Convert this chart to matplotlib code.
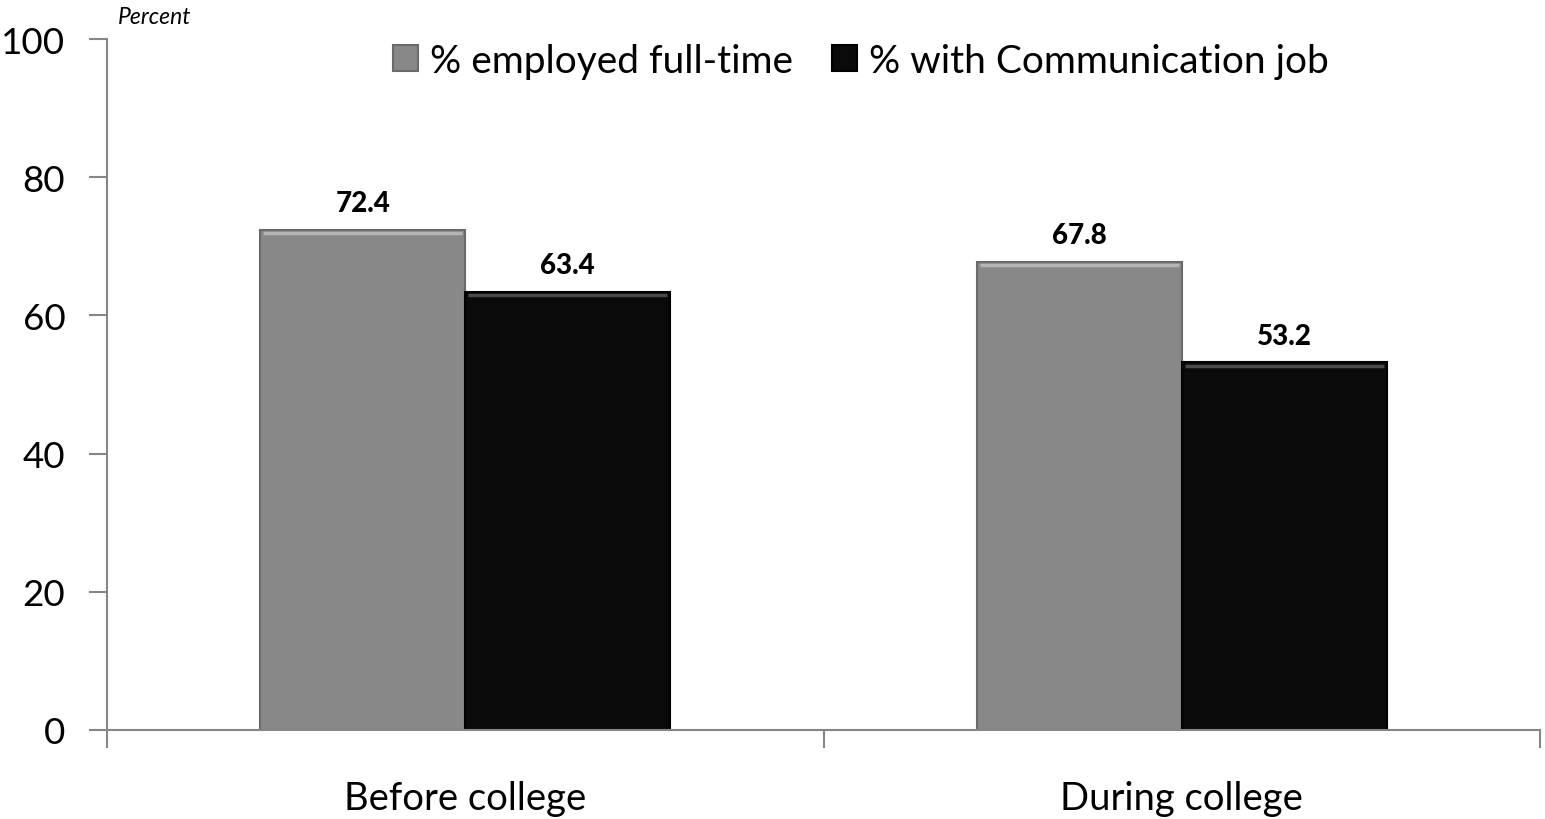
import matplotlib
matplotlib.use("Agg")
import matplotlib.pyplot as plt
import numpy as np

categories = ["Before college", "During college"]
series_names = ["% employed full-time", "% with Communication job"]
employed_full_time = [72.4, 67.8]
communication_job = [63.4, 53.2]
y_ticks = [0, 20, 40, 60, 80, 100]

plt.rcParams['font.family'] = ['Lato', 'DejaVu Sans']

fig = plt.figure(figsize=(15.45, 8.2), dpi=100)
ax = fig.add_axes([107/1545, 1-731/820, (1540-107)/1545, (731-40)/820])

x = np.arange(len(categories))
w = 0.286
colors = ["#888888", "#0a0a0a"]
edges = ["#6a6a6a", "#000000"]
for i, (vals, c, ec, name) in enumerate(zip([employed_full_time, communication_job], colors, edges, series_names)):
    off = (i - 0.5) * w
    bars = ax.bar(x + off, vals, width=w, color=c, edgecolor=ec, linewidth=1.5, label=name, zorder=2)
    for b, v in zip(bars, vals):
        ax.plot([b.get_x() + 0.004, b.get_x() + b.get_width() - 0.004], [v - 0.5, v - 0.5],
                color="#b5b5b5" if i == 0 else "#4a4a4a", lw=2.5, zorder=3, solid_capstyle='butt')
        ax.text(b.get_x() + b.get_width() / 2, v + 2.0, f"{v:.1f}", ha="center", va="bottom",
                fontsize=20, fontweight="black", color="black")

ax.set_xlim(-0.5, 1.5)
ax.set_ylim(0, 100)
ax.set_yticks(y_ticks)
ax.set_yticklabels([str(t) for t in y_ticks], fontsize=26.5)
ax.set_xticks([-0.5, 0.5, 1.5])
ax.set_xticklabels([])
ax.set_xticks(x, minor=True)
ax.set_xticklabels(categories, minor=True, fontsize=27.5)
ax.tick_params(axis='x', which='minor', length=0, pad=36)
ax.tick_params(axis='x', which='major', length=13, width=1.5, color="#868686", direction='out')
ax.tick_params(axis='y', length=13, width=1.5, color="#868686", direction='out', pad=17)
for s in ["top", "right"]:
    ax.spines[s].set_visible(False)
for s in ["left", "bottom"]:
    ax.spines[s].set_color("#868686")
    ax.spines[s].set_linewidth(1.5)

fig.text(118/1545, 1-17/820, "Percent", fontsize=16.5, style="italic", ha="left", va="center")

leg = ax.legend(loc="upper center", bbox_to_anchor=(0.526, 1.045), ncol=2, frameon=False,
                fontsize=28, handlelength=0.65, handleheight=0.65, handletextpad=0.3, columnspacing=1.0)

fig.savefig("out.png", dpi=100)
